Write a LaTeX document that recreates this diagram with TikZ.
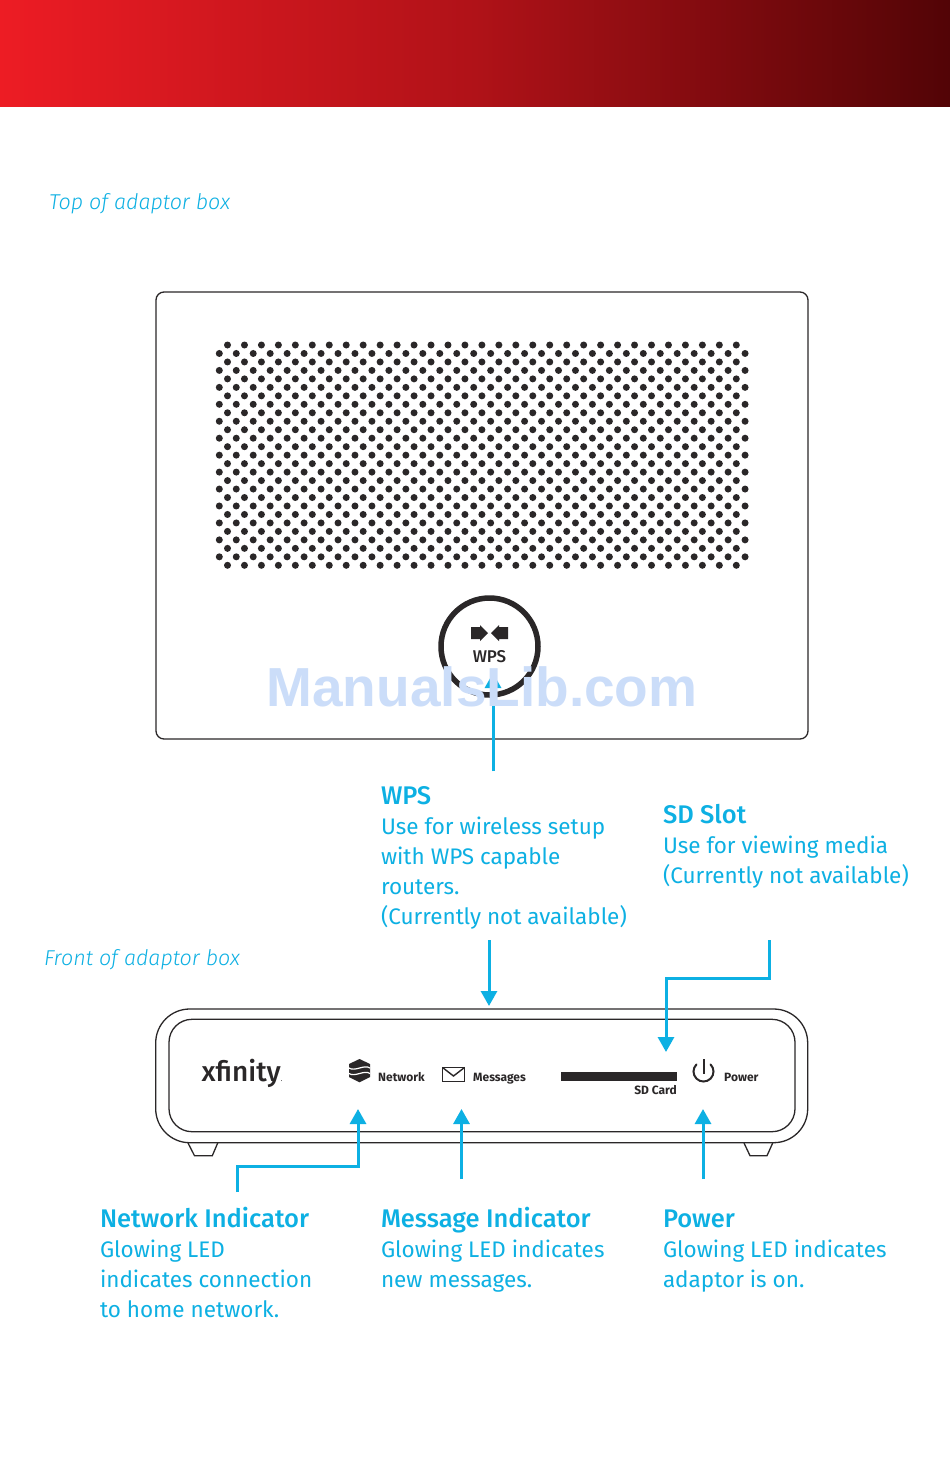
\documentclass[tikz,border=0pt]{standalone}
\usepackage{fontspec}
\usetikzlibrary{arrows.meta,shapes.geometric}
\setmainfont{Fira Sans}
\newfontfamily\bodyf{Fira Sans}
\newfontfamily\titlef{Fira Sans Medium}
\newfontfamily\itf{Fira Sans Light Italic}
\newfontfamily\wmf{Liberation Sans}
\definecolor{cyanx}{HTML}{0DB0E3}
\definecolor{inkx}{HTML}{2A2728}
\definecolor{wmark}{HTML}{CBDDF9}
\definecolor{redl}{HTML}{ED1C24}
\definecolor{redm}{HTML}{B01218}
\definecolor{redr}{HTML}{520406}
\newcommand{\desctitle}[1]{{\fontsize{25.5}{30}\selectfont\titlef\rule{0pt}{25pt}#1}}
\tikzset{
  desc/.style={anchor=north west,inner sep=0pt,outer sep=0pt,text=cyanx,align=left,font=\fontsize{22.5}{30}\selectfont\bodyf},
  toplabel/.style={anchor=base west,inner sep=0pt,text=cyanx,font=\fontsize{21.5}{23}\selectfont\itf},
  callout/.style={draw=cyanx,line width=3pt,-{Triangle[width=16pt,length=15pt]}},
  outline/.style={draw=inkx,line width=1.3pt},
  small/.style={anchor=base west,inner sep=0pt,text=inkx,font=\fontsize{12}{12}\selectfont\bfseries}
}
\begin{document}
\begin{tikzpicture}[x=1pt,y=-1pt]
\useasboundingbox (0,0) rectangle (950,1480);
\fill[white] (0,0) rectangle (950,1480);
% header
\shade[left color=redl,right color=redm] (0,0) rectangle (475,106.6);
\shade[left color=redm,right color=redr] (475,0) rectangle (950,106.6);
% labels
\node[toplabel] (toplab) at (49,209) {Top of adaptor box};
\node[toplabel] (frontlab) at (44,965) {Front of adaptor box};
% top box
\draw[outline,rounded corners=8pt] (156,292) rectangle (808,739);
\foreach \r in {0,...,26}{
  \pgfmathsetmacro{\yy}{345+8.473*\r}
  \ifodd\r
    \foreach \c in {0,...,31}{\fill[inkx] ({219.3+16.96*\c},\yy) circle (3.5pt);}
  \else
    \foreach \c in {0,...,30}{\fill[inkx] ({227.5+16.96*\c},\yy) circle (3.5pt);}
  \fi
}
% WPS button
\node[circle,draw=inkx,line width=5.5pt,minimum size=97pt,inner sep=0pt] (wpsring) at (489.5,646.5) {};
\node[inner sep=0pt,text=inkx,font=\fontsize{17}{17}\selectfont\titlef] (wpstxt) at (489.5,657) {WPS};
\fill[inkx] (471,627)--(480,627)--(480,625)--(488,633)--(480,641)--(480,639)--(471,639)--cycle;
\fill[inkx] (508,627)--(499,627)--(499,625)--(491,633)--(499,641)--(499,639)--(508,639)--cycle;
% WPS arrow
\coordinate (wpstail) at (493,771);
\coordinate (wpstip) at (493,673);
\draw[callout] (wpstail) -- (wpstip);
% watermark
\node[anchor=base,inner sep=0pt,text=wmark,font=\fontsize{55}{55}\selectfont\wmf\bfseries] (wm) at (482,706) {ManualsLib.com};
\draw[cyanx,line width=3pt] (wpstail) -- (493,706);
% descriptions
\node[desc] (dwps) at (381,779) {\desctitle{WPS}\\Use for wireless setup\\with WPS capable\\routers.\\(Currently not available)};
\node[desc] (dsd) at (663,798) {\desctitle{SD Slot}\\Use for viewing media\\(Currently not available)};
\node[desc] (dnet) at (100,1202) {\desctitle{Network Indicator}\\Glowing LED\\indicates connection\\to home network.};
\node[desc] (dmsg) at (381,1202) {\desctitle{Message Indicator}\\Glowing LED indicates\\new messages.};
\node[desc] (dpow) at (663,1202) {\desctitle{Power}\\Glowing LED indicates\\adaptor is on.};
% front box
\draw[outline] (188,1143)--(194.5,1155.7)--(212.3,1155.7)--(217.7,1143);
\draw[outline] (744,1143)--(750,1155.7)--(767,1155.7)--(772.7,1143);
\draw[outline,rounded corners=34pt,fill=white] (155.7,1009) rectangle (807.7,1142.7);
\draw[outline,rounded corners=23pt] (169,1019.3) rectangle (795,1131.7);
% logo and icons
\node[anchor=base west,inner sep=0pt,text=inkx,font=\fontsize{28}{28}\selectfont\titlef] (logo) at (201.5,1081.7) {xfinity\raisebox{0pt}{\fontsize{6}{6}\selectfont.}};
\fill[inkx] (359.5,1059)--(370,1064)--(370,1077)--(359.5,1082.3)--(349,1077)--(349,1064)--cycle;
\draw[white,line width=1.2pt] (349,1068) .. controls (355,1072) and (364,1064) .. (370,1068);
\draw[white,line width=1.2pt] (349,1073.5) .. controls (355,1077.5) and (364,1069.5) .. (370,1073.5);
\node[small] (netl) at (378,1081) {Network};
\draw[draw=inkx,line width=1.7pt] (442.5,1067.5) rectangle (464.5,1081.5);
\draw[draw=inkx,line width=1.4pt] (442.5,1067.5)--(453.5,1076)--(464.5,1067.5);
\node[small] (msgl) at (473,1081) {Messages};
\fill[inkx] (561,1072) rectangle (677,1080.5);
\node[small,anchor=base east] (sdl) at (677,1094) {SD Card};
\draw[inkx,line width=2pt,line cap=round] (710.57,1064.43) arc[start angle=-45,end angle=225,radius=10];
\draw[inkx,line width=2pt] (703.7,1059)--(703.7,1074);
\node[small] (powl) at (724,1081) {Power};
% callouts
\coordinate (ctail) at (489,940);
\coordinate (ctip) at (489,1006);
\draw[callout] (ctail) -- (ctip);
\coordinate (sdtail) at (769,940);
\coordinate (sdmid) at (666,978);
\coordinate (sdtip) at (666,1052);
\draw[callout] (sdtail) |- (sdmid) -- (sdtip);
\coordinate (nettail) at (237,1192);
\coordinate (netmid) at (358,1166);
\coordinate (nettip) at (358,1109);
\draw[callout] (nettail) |- (netmid) -- (nettip);
\coordinate (msgtail) at (461.5,1179);
\coordinate (msgtip) at (461.5,1109);
\draw[callout] (msgtail) -- (msgtip);
\coordinate (powtail) at (703,1179);
\coordinate (powtip) at (703,1109);
\draw[callout] (powtail) -- (powtip);
\end{tikzpicture}
\end{document}
